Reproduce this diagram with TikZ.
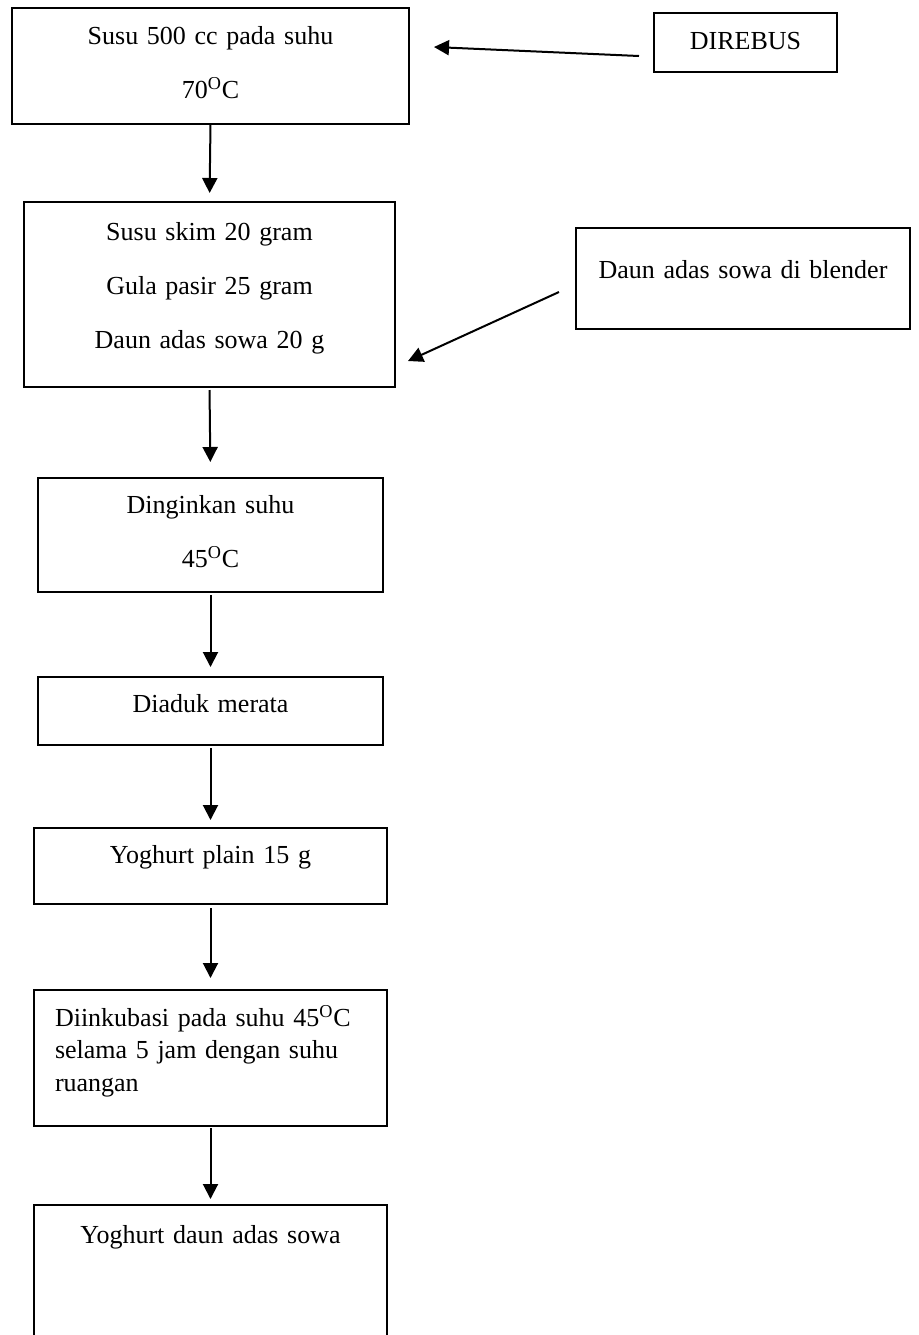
\documentclass[tikz,border=0pt]{standalone}
\usepackage{fontspec}
\setmainfont{Liberation Serif}
\usetikzlibrary{arrows.meta}

\begin{document}
\begin{tikzpicture}[x=0.5pt,y=-0.5pt,inner sep=0pt,outer sep=0pt,
kotak/.style={draw,rectangle,line width=1.2pt,align=center,anchor=base,font=\fontsize{13pt}{15pt}\selectfont},
pil/.style={line width=1pt,-{Triangle[length=7.5pt,width=7.5pt]}}]

\useasboundingbox (0,0) rectangle (918,1335);
\clip (0,0) rectangle (918,1335);

\draw (210.5,44) node[kotak,text width=198.5pt,text height=18pt,text depth=40pt] (susu) {Susu 500 cc pada suhu\\[12pt]70\textsuperscript{O}C};
\draw (745.5,49) node[kotak,text width=91.5pt,text height=18pt,text depth=11.5pt] (rebus) {DIREBUS};
\draw (209.5,240) node[kotak,text width=185.5pt,text height=19pt,text depth=73.5pt] (bahan) {Susu skim 20 gram\\[12pt]Gula pasir 25 gram\\[12pt]Daun adas sowa 20 g};
\draw (743,278) node[kotak,text width=167pt,text height=25pt,text depth=25.5pt] (blender) {Daun adas sowa di blender};
\draw (210.5,513) node[kotak,text width=172.5pt,text height=17.5pt,text depth=39.5pt] (dingin) {Dinginkan suhu\\[12pt]45\textsuperscript{O}C};
\draw (210.5,712) node[kotak,text width=172.5pt,text height=17.5pt,text depth=16.5pt] (aduk) {Diaduk merata};
\draw (210.5,863) node[kotak,text width=176.5pt,text height=17.5pt,text depth=20.5pt] (plain) {Yoghurt plain 15 g};
\draw (210.5,1026) node[kotak,align=left,inner xsep=10.5pt,text width=155.5pt,text height=18pt,text depth=50pt] (inkubasi) {Diinkubasi pada suhu 45\textsuperscript{O}C\\[1.25pt]selama 5 jam dengan suhu\\[1.25pt]ruangan};
\draw (210.5,1243) node[kotak,text width=176.5pt,text height=19pt,text depth=78.5pt] (hasil) {Yoghurt daun adas sowa};

\draw[pil] ([shift={(-15,13.5)}]rebus.west) -- ([shift={(25,-19)}]susu.east);
\draw[pil] ([shift={(-17,13.5)}]blender.west) -- ([shift={(13,66.5)}]bahan.east);
\draw[pil,shorten >=4.5pt] (susu.south) -- (bahan.north);
\draw[pil,shorten <=1.5pt,shorten >=8pt] (bahan.south) -- (dingin.north);
\draw[pil,shorten <=1.5pt,shorten >=5pt] (dingin.south) -- (aduk.north);
\draw[pil,shorten <=1.5pt,shorten >=4pt] (aduk.south) -- (plain.north);
\draw[pil,shorten <=2pt,shorten >=6pt] (plain.south) -- (inkubasi.north);
\draw[pil,shorten <=1pt,shorten >=3pt] (inkubasi.south) -- (hasil.north);
\end{tikzpicture}
\end{document}
